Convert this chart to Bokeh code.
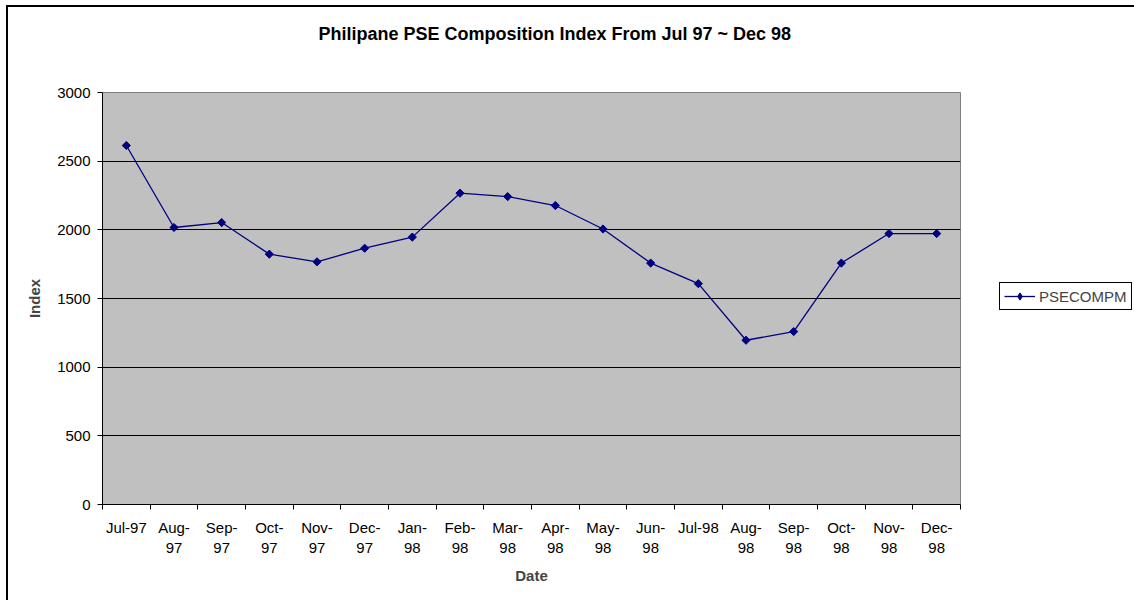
import math
from bokeh.plotting import figure
from bokeh.layouts import row
from bokeh.models import FixedTicker, Legend, LegendItem, Range1d, Title
from bokeh.embed import file_html
from bokeh.resources import INLINE

months = ["Jul-97", "Aug-\n97", "Sep-\n97", "Oct-\n97", "Nov-\n97", "Dec-\n97",
          "Jan-\n98", "Feb-\n98", "Mar-\n98", "Apr-\n98", "May-\n98", "Jun-\n98",
          "Jul-98", "Aug-\n98", "Sep-\n98", "Oct-\n98", "Nov-\n98", "Dec-\n98"]
psecompm = [2614, 2017, 2053, 1823, 1767, 1866, 1947, 2267, 2242, 2177,
            2006, 1758, 1608, 1196, 1259, 1758, 1973, 1973]
y_ticks = [0, 500, 1000, 1500, 2000, 2500, 3000]
series_name = "PSECOMPM"
title_text = "Philipane PSE Composition Index From Jul 97 ~ Dec 98"

n = len(months)
xs = [i + 0.5 for i in range(n)]

FONT = "Liberation Sans"
NAVY = "#000080"

p = figure(width=953, height=593, output_backend="svg", toolbar_location=None,
           x_range=Range1d(0, n), y_range=Range1d(0, 3000),
           min_border_left=94, min_border_right=1, min_border_top=85, min_border_bottom=96)

p.background_fill_color = "#C0C0C0"
p.border_fill_color = "white"
p.outline_line_color = "#808080"
p.outline_line_width = 1

# spacer (closest to frame) then the real title
p.add_layout(Title(text=" ", text_font_size="1px", standoff=46), "above")
p.add_layout(Title(text=title_text, align="left", offset=216, standoff=0,
                   text_font=FONT, text_font_size="18px", text_font_style="bold",
                   text_color="black"), "above")

# x axis: labels at category centres, ticks at category boundaries
xa = p.xaxis[0]
xa.ticker = FixedTicker(ticks=xs, minor_ticks=list(range(n + 1)))
xa.major_label_overrides = {x: m for x, m in zip(xs, months)}
xa.major_tick_out = 0
xa.major_tick_in = 0
xa.minor_tick_out = 5
xa.minor_tick_in = 0
xa.minor_tick_line_color = "black"
xa.axis_line_color = "black"
xa.major_label_text_font = FONT
xa.major_label_text_font_size = "15px"
xa.major_label_text_color = "black"
xa.major_label_standoff = 9
xa.axis_label = "Date"
xa.axis_label_text_font = FONT
xa.axis_label_text_font_size = "15px"
xa.axis_label_text_font_style = "bold"
xa.axis_label_standoff = 8

ya = p.yaxis[0]
ya.ticker = FixedTicker(ticks=y_ticks)
ya.major_tick_out = 5
ya.major_tick_in = 0
ya.minor_tick_out = 0
ya.minor_tick_in = 0
ya.major_tick_line_color = "black"
ya.axis_line_color = "black"
ya.major_label_text_font = FONT
ya.major_label_text_font_size = "15px"
ya.major_label_text_color = "black"
ya.major_label_standoff = 7
ya.axis_label = "Index"
ya.axis_label_text_font = FONT
ya.axis_label_text_font_size = "15px"
ya.axis_label_text_font_style = "bold"
ya.axis_label_standoff = 11

p.xgrid.grid_line_color = None
p.ygrid.ticker = FixedTicker(ticks=y_ticks)
p.ygrid.grid_line_color = "black"
p.ygrid.grid_line_width = 1

p.line(xs, psecompm, line_color=NAVY, line_width=1.3)
p.scatter(xs, psecompm, marker="square", angle=math.pi / 4, size=5.8,
          fill_color=NAVY, line_color=NAVY)

# legend panel to the right of the plot area (same series, drawn out of view)
p2 = figure(width=173, height=593, output_backend="svg", toolbar_location=None,
            x_axis_location=None, y_axis_location=None, min_border=0,
            x_range=Range1d(0, 1), y_range=Range1d(-2, -1))
p2.grid.visible = False
p2.outline_line_color = None
p2.background_fill_color = "white"
p2.border_fill_color = "white"
l2 = p2.line(xs, psecompm, line_color=NAVY, line_width=1.3)
m2 = p2.scatter(xs, psecompm, marker="diamond", size=9, fill_color=NAVY, line_color=NAVY)
legend = Legend(items=[LegendItem(label=series_name, renderers=[l2, m2])],
                location=(38, 194), border_line_color="black", border_line_width=1.5,
                border_line_alpha=1.0,
                background_fill_color="white", background_fill_alpha=1,
                label_text_font=FONT, label_text_font_size="15px",
                glyph_width=31, glyph_height=18, padding=4, label_standoff=4,
                margin=0, spacing=0)
p2.add_layout(legend, "center")

layout = row(p, p2)
layout.styles = {"border-left": "2px solid #000000", "border-top": "2px solid #000000",
                 "margin-left": "6px", "margin-top": "5px"}

open("out.html", "w").write(file_html(layout, INLINE))
